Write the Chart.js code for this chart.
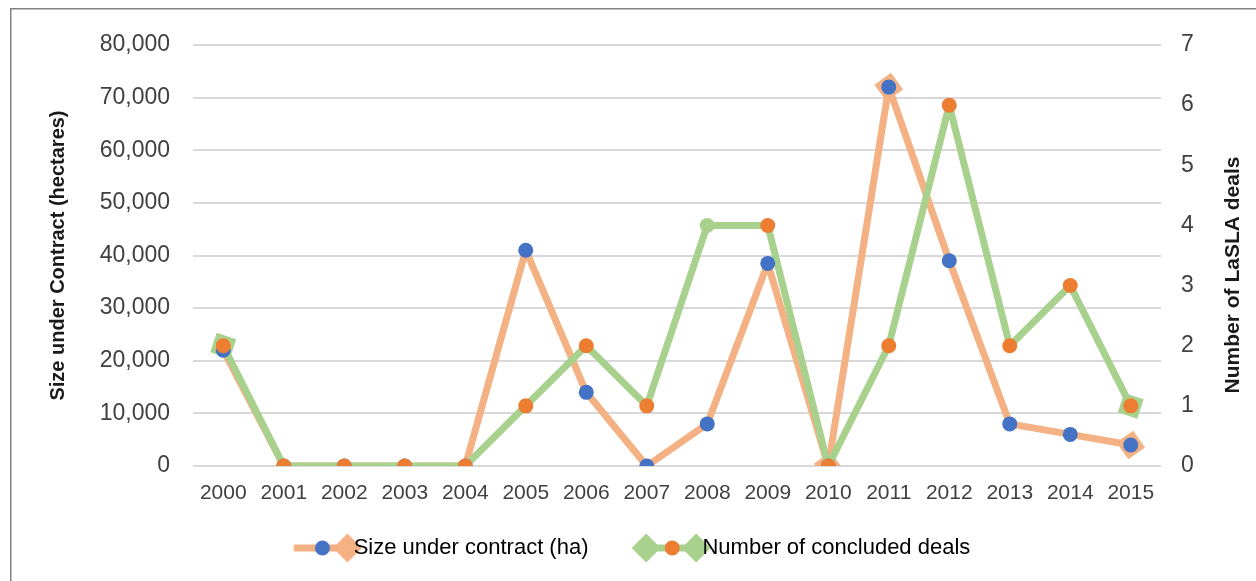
<!DOCTYPE html>
<html>
<head>
<meta charset="utf-8">
<script src="https://cdn.jsdelivr.net/npm/chart.js@4.4.1/dist/chart.umd.min.js"></script>
<style>
html, body { margin: 0; padding: 0; background: #ffffff; }
#wrap { position: relative; width: 1256px; height: 581px; }
canvas { display: block; }
</style>
</head>
<body>
<div id="wrap"><canvas id="c" width="1256" height="581"></canvas></div>
<script>
// ---- data ----
const years = ['2000','2001','2002','2003','2004','2005','2006','2007','2008','2009','2010','2011','2012','2013','2014','2015'];
const sizeHa = [22000, 0, 0, 0, 0, 41000, 14000, 0, 8000, 38500, 0, 72000, 39000, 8000, 6000, 4000];
const dealsCount = [2, 0, 0, 0, 0, 1, 2, 1, 4, 4, 0, 2, 6, 2, 3, 1];
const seriesNames = ['Size under contract (ha)', 'Number of concluded deals'];
const leftAxisTitle = 'Size under Contract (hectares)';
const rightAxisTitle = 'Number of LaSLA deals';

// ---- styles ----
const ORANGE_LINE = '#F4B183';
const GREEN_LINE = '#A9D18E';
const BLUE_DOT = '#4472C4';
const ORANGE_DOT = '#ED7D31';
const FONT = '"Liberation Sans", Arial, sans-serif';
const TICK_COLOR = '#404040';
const TITLE_COLOR = '#1a1a1a';

function diamond(ctx, x, y, r, color) {
  ctx.beginPath();
  ctx.moveTo(x - r, y); ctx.lineTo(x, y - r); ctx.lineTo(x + r, y); ctx.lineTo(x, y + r);
  ctx.closePath(); ctx.fillStyle = color; ctx.fill();
}
function dot(ctx, x, y, r, color) {
  ctx.beginPath(); ctx.arc(x, y, r, 0, Math.PI * 2); ctx.fillStyle = color; ctx.fill();
}
// legend symbol images, drawn around their centre (60,17)
function makeSymbol(kind) {
  const cv = document.createElement('canvas');
  cv.width = 120; cv.height = 34;
  const g = cv.getContext('2d');
  const cx = 60, cy = 17;
  if (kind === 0) {
    g.strokeStyle = ORANGE_LINE; g.lineWidth = 7;
    g.beginPath(); g.moveTo(cx - 10.5, cy); g.lineTo(cx + 43, cy); g.stroke();
    dot(g, cx + 18.2, cy, 7.5, BLUE_DOT);
    diamond(g, cx + 43.2, cy, 14.5, ORANGE_LINE);
  } else {
    g.strokeStyle = GREEN_LINE; g.lineWidth = 7;
    g.beginPath(); g.moveTo(cx - 6.8, cy); g.lineTo(cx + 43.2, cy); g.stroke();
    diamond(g, cx - 6.8, cy, 14.5, GREEN_LINE);
    diamond(g, cx + 43.2, cy, 14.5, GREEN_LINE);
    dot(g, cx + 19.2, cy, 7.5, ORANGE_DOT);
  }
  return cv;
}
const legendSymbols = [makeSymbol(0), makeSymbol(1)];

// rotation of a diamond marker so that it follows the line direction
function segAngle(ctx, useNext) {
  const chart = ctx.chart, ds = chart.data.datasets[ctx.datasetIndex];
  const ys = chart.scales[ds.yAxisID], xs = chart.scales.x;
  const i = ctx.dataIndex;
  const j = useNext ? i + 1 : i - 1;
  const a = useNext ? i : j, b = useNext ? j : i;
  const dx = xs.getPixelForValue(b) - xs.getPixelForValue(a);
  const dy = ys.getPixelForValue(ds.data[b]) - ys.getPixelForValue(ds.data[a]);
  return Math.atan2(dy, dx) * 180 / Math.PI;
}
const sizeDiamonds = [10, 11, 15];
const dealDiamonds = [0, 15];

const framePlugin = {
  id: 'frame',
  afterLayout(chart) {
    if (chart.legend) { chart.legend.left -= 10; chart.legend.right -= 10; }
  },
  beforeDraw(chart) {
    const c = chart.ctx;
    c.save();
    c.fillStyle = '#ffffff';
    c.fillRect(0, 0, chart.width, chart.height);
    c.strokeStyle = '#808080';
    c.lineWidth = 1.5;
    c.beginPath();
    c.moveTo(10.75, chart.height); c.lineTo(10.75, 8.75); c.lineTo(chart.width, 8.75);
    c.stroke();
    c.restore();
  },
  afterDraw(chart) {
    const c = chart.ctx;
    c.save();
    c.translate(1233, 275);
    c.rotate(-Math.PI / 2);
    c.font = 'bold 21px ' + FONT;
    c.fillStyle = TITLE_COLOR;
    c.textAlign = 'center';
    c.textBaseline = 'middle';
    c.fillText(rightAxisTitle, 0, 0);
    c.restore();
  }
};

new Chart(document.getElementById('c'), {
  type: 'line',
  data: {
    labels: years,
    datasets: [
      { // orange dots on the deals line
        label: seriesNames[1] + ' dots',
        data: dealsCount,
        yAxisID: 'y1',
        showLine: false,
        pointStyle: 'circle',
        pointRadius: 7.5,
        pointBorderWidth: 0,
        pointBackgroundColor: ctx => ctx.dataIndex === 8 ? GREEN_LINE : ORANGE_DOT
      },
      { // blue dots on the size line
        label: seriesNames[0] + ' dots',
        data: sizeHa,
        yAxisID: 'y',
        showLine: false,
        pointStyle: 'circle',
        pointRadius: 7.5,
        pointBorderWidth: 0,
        pointBackgroundColor: BLUE_DOT
      },
      {
        label: seriesNames[1],
        data: dealsCount,
        yAxisID: 'y1',
        borderColor: GREEN_LINE,
        borderWidth: 7,
        borderJoinStyle: 'round',
        borderCapStyle: 'round',
        tension: 0,
        fill: false,
        pointStyle: 'rectRot',
        pointRadius: ctx => dealDiamonds.includes(ctx.dataIndex) ? 14.5 : 0,
        pointRotation: ctx => dealDiamonds.includes(ctx.dataIndex) ? segAngle(ctx, ctx.dataIndex === 0) : 0,
        pointBackgroundColor: GREEN_LINE,
        pointBorderWidth: 0
      },
      {
        label: seriesNames[0],
        data: sizeHa,
        yAxisID: 'y',
        borderColor: ORANGE_LINE,
        borderWidth: 7,
        borderJoinStyle: 'round',
        borderCapStyle: 'round',
        tension: 0,
        fill: false,
        pointStyle: 'rectRot',
        pointRadius: ctx => sizeDiamonds.includes(ctx.dataIndex) ? 14.5 : 0,
        pointRotation: ctx => sizeDiamonds.includes(ctx.dataIndex) ? segAngle(ctx, ctx.dataIndex === 0 || ctx.dataIndex === 10) : 0,
        pointBackgroundColor: ORANGE_LINE,
        pointBorderWidth: 0
      }
    ]
  },
  options: {
    responsive: false,
    devicePixelRatio: 1,
    animation: false,
    events: [],
    layout: { padding: { top: 45, bottom: 12, left: 0, right: 0 } },
    plugins: {
      tooltip: { enabled: false },
      legend: {
        display: true,
        position: 'bottom',
        labels: {
          usePointStyle: true,
          pointStyleWidth: 77,
          padding: 26,
          color: '#1a1a1a',
          font: { family: FONT, size: 22 },
          generateLabels: () => seriesNames.map((t, i) => ({
            text: t,
            pointStyle: legendSymbols[i],
            fillStyle: 'transparent',
            strokeStyle: 'transparent',
            lineWidth: 0,
            hidden: false,
            datasetIndex: i
          }))
        }
      }
    },
    scales: {
      x: {
        offset: true,
        grid: { display: false, drawTicks: false, offset: true },
        border: { display: false },
        ticks: { color: TICK_COLOR, font: { family: FONT, size: 21 }, padding: 15, maxRotation: 0, autoSkip: false },
        afterFit: s => { s.height = 45; }
      },
      y: {
        position: 'left',
        min: 0, max: 80000,
        grid: { color: '#D9D9D9', lineWidth: 2, drawTicks: false },
        border: { display: false },
        ticks: {
          stepSize: 10000,
          color: TICK_COLOR,
          font: { family: FONT, size: 23 },
          padding: 23,
          callback: v => v.toLocaleString('en-US')
        },
        title: {
          display: true,
          text: leftAxisTitle,
          color: TITLE_COLOR,
          font: { family: FONT, size: 20, weight: 'bold' },
          padding: { top: 46, bottom: 0 }
        },
        afterFit: s => { s.width = 193; }
      },
      y1: {
        position: 'right',
        min: 0, max: 7,
        grid: { display: false, drawTicks: false },
        border: { display: false },
        ticks: { stepSize: 1, color: TICK_COLOR, font: { family: FONT, size: 23 }, padding: 20 },
        afterFit: s => { s.width = 95; }
      }
    }
  },
  plugins: [framePlugin]
});
</script>
</body>
</html>
